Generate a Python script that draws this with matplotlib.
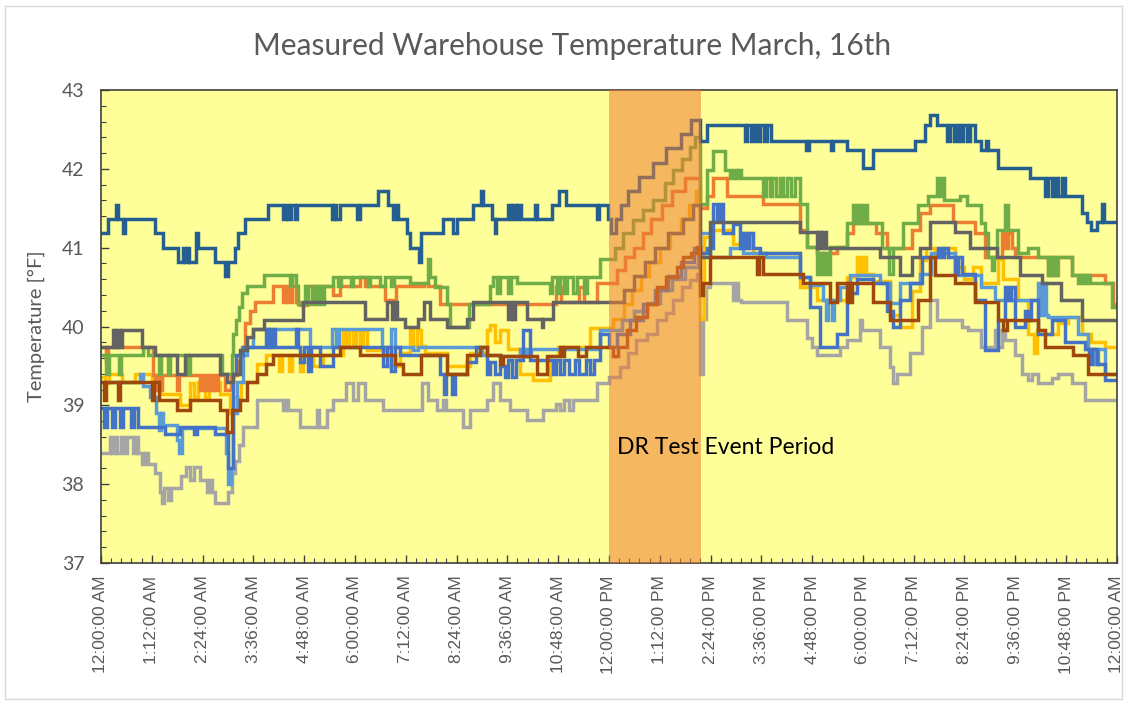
import numpy as np
import matplotlib
matplotlib.use("Agg")
import matplotlib.pyplot as plt
from matplotlib.patches import Rectangle
from matplotlib.ticker import MultipleLocator

# readings: (hour of day, temperature F), value holds until next reading
dark_blue = [(0.00, 41.18), (0.17, 41.36), (0.35, 41.54), (0.40, 41.36), (0.52, 41.18), (0.57, 41.36),
             (1.28, 41.18), (1.47, 41.00), (1.83, 40.82), (1.93, 41.00), (1.98, 40.82), (2.05, 41.00),
             (2.09, 40.82), (2.25, 41.18), (2.29, 41.00), (2.69, 40.82), (2.93, 40.64), (2.99, 40.82),
             (3.16, 41.00), (3.24, 41.18), (3.40, 41.36), (3.95, 41.54), (4.31, 41.36), (4.36, 41.54),
             (4.42, 41.36), (4.50, 41.54), (4.58, 41.36), (4.64, 41.54), (5.45, 41.36), (5.50, 41.54),
             (5.56, 41.36), (5.64, 41.54), (6.06, 41.36), (6.11, 41.54), (6.55, 41.72), (6.79, 41.54),
             (6.90, 41.36), (6.96, 41.54), (7.02, 41.36), (7.22, 41.18), (7.30, 41.00), (7.52, 40.82),
             (7.56, 41.18), (8.09, 41.36), (8.32, 41.18), (8.40, 41.36), (8.80, 41.54), (8.98, 41.72),
             (9.03, 41.54), (9.23, 41.36), (9.30, 41.18), (9.34, 41.36), (9.62, 41.54), (9.68, 41.36),
             (9.74, 41.54), (9.80, 41.36), (9.86, 41.54), (9.92, 41.36), (10.26, 41.54), (10.31, 41.36),
             (10.65, 41.54), (10.82, 41.72), (10.98, 41.54), (11.72, 41.36), (11.77, 41.54), (11.98, 41.36),
             (12.06, 41.18), (12.17, 41.36), (12.28, 41.54), (12.45, 41.72), (12.72, 41.90), (13.05, 42.08),
             (13.35, 42.26), (13.70, 42.44), (13.95, 42.62), (14.15, 42.35), (14.31, 42.56), (15.21, 42.35),
             (15.27, 42.56), (15.35, 42.35), (15.42, 42.56), (15.50, 42.35), (15.58, 42.56), (15.66, 42.35),
             (15.74, 42.56), (15.82, 42.35), (16.65, 42.24), (16.72, 42.35), (17.24, 42.24), (17.29, 42.35),
             (17.62, 42.24), (18.01, 42.01), (18.25, 42.24), (19.23, 42.35), (19.47, 42.56), (19.58, 42.68),
             (19.74, 42.56), (19.98, 42.35), (20.05, 42.56), (20.15, 42.35), (20.22, 42.56), (20.30, 42.35),
             (20.36, 42.56), (20.45, 42.35), (20.52, 42.56), (20.65, 42.35), (20.80, 42.24), (20.90, 42.35),
             (20.96, 42.24), (21.20, 42.01), (21.95, 41.88), (22.30, 41.65), (22.38, 41.88), (22.46, 41.65),
             (22.54, 41.88), (22.62, 41.65), (22.70, 41.88), (22.78, 41.65), (23.17, 41.44), (23.30, 41.33),
             (23.40, 41.22), (23.52, 41.33), (23.66, 41.56), (23.70, 41.33), (24.00, 41.33)]

green = [(0.00, 39.64), (0.12, 39.40), (0.18, 39.64), (0.42, 39.40), (0.48, 39.64), (1.00, 39.74),
         (1.12, 39.64), (1.37, 39.40), (1.42, 39.64), (1.58, 39.40), (1.62, 39.64), (2.05, 39.40),
         (2.10, 39.64), (2.85, 39.40), (3.09, 39.64), (3.13, 39.91), (3.20, 40.08), (3.26, 40.25),
         (3.34, 40.42), (3.44, 40.52), (3.84, 40.65), (4.47, 40.52), (4.52, 40.65), (4.60, 40.52),
         (4.66, 40.29), (4.82, 40.52), (4.90, 40.29), (4.98, 40.52), (5.05, 40.29), (5.12, 40.52),
         (5.20, 40.29), (5.28, 40.52), (5.49, 40.63), (5.60, 40.52), (5.66, 40.63), (5.90, 40.52),
         (5.95, 40.63), (6.30, 40.52), (6.36, 40.63), (6.60, 40.52), (6.70, 40.63), (6.85, 40.52),
         (6.92, 40.63), (7.30, 40.55), (7.72, 40.86), (7.78, 40.63), (7.90, 40.50), (8.17, 40.29),
         (8.25, 40.00), (8.70, 40.29), (9.20, 40.52), (9.27, 40.63), (9.35, 40.42), (9.42, 40.63),
         (9.62, 40.42), (9.68, 40.63), (9.82, 40.55), (10.60, 40.42), (10.66, 40.63), (10.78, 40.42),
         (10.85, 40.63), (10.95, 40.42), (11.02, 40.63), (11.15, 40.42), (11.25, 40.63), (11.40, 40.42),
         (11.48, 40.63), (11.79, 40.86), (12.15, 41.00), (12.34, 41.18), (12.58, 41.35), (12.81, 41.48),
         (13.05, 41.60), (13.32, 41.82), (13.52, 41.99), (13.72, 42.13), (13.91, 42.28), (14.03, 42.41),
         (14.15, 41.56), (14.31, 41.99), (14.47, 42.22), (14.74, 41.99), (14.86, 41.88), (14.92, 41.99),
         (15.00, 41.88), (15.06, 41.99), (15.12, 41.88), (15.65, 41.65), (15.72, 41.88), (15.80, 41.65),
         (15.86, 41.88), (15.95, 41.65), (16.05, 41.88), (16.12, 41.65), (16.20, 41.88), (16.30, 41.65),
         (16.40, 41.88), (16.51, 41.56), (16.67, 41.01), (16.91, 40.67), (16.97, 40.93), (17.03, 40.67),
         (17.09, 40.93), (17.15, 40.67), (17.22, 41.01), (17.62, 41.31), (17.77, 41.54), (17.83, 41.31),
         (17.90, 41.54), (17.96, 41.31), (18.03, 41.54), (18.10, 41.31), (18.44, 40.99), (18.62, 40.67),
         (18.72, 40.99), (18.95, 41.31), (19.31, 41.54), (19.55, 41.65), (19.74, 41.88), (19.80, 41.65),
         (19.86, 41.88), (19.92, 41.60), (20.29, 41.65), (20.45, 41.54), (20.80, 41.31), (20.88, 41.18),
         (20.96, 40.88), (21.04, 40.72), (21.10, 40.88), (21.16, 41.22), (21.36, 41.54), (21.43, 41.22),
         (21.67, 40.93), (21.91, 41.00), (22.14, 40.88), (22.38, 40.65), (22.45, 40.88), (22.52, 40.65),
         (22.58, 40.88), (22.93, 40.65), (23.09, 40.55), (23.15, 40.65), (23.22, 40.55), (23.30, 40.65),
         (23.37, 40.55), (23.88, 40.25), (24.00, 40.25)]

orange = [(0.00, 39.74), (0.12, 39.56), (0.17, 39.74), (1.23, 39.38), (1.28, 39.20), (1.33, 39.38),
          (1.40, 39.20), (1.45, 39.38), (1.80, 39.20), (1.85, 39.38), (2.34, 39.20), (2.40, 39.38),
          (2.46, 39.20), (2.52, 39.38), (2.58, 39.20), (2.64, 39.38), (2.70, 39.20), (2.76, 39.38),
          (2.93, 39.20), (3.06, 39.38), (3.22, 39.56), (3.32, 39.74), (3.40, 40.04), (3.52, 40.20),
          (3.64, 40.31), (4.07, 40.52), (4.31, 40.31), (4.37, 40.52), (4.45, 40.31), (4.52, 40.52),
          (4.60, 40.31), (4.70, 40.27), (4.86, 40.52), (5.49, 40.40), (5.65, 40.52), (6.12, 40.63),
          (6.24, 40.52), (6.70, 40.33), (6.98, 40.52), (7.62, 40.55), (7.73, 40.52), (8.00, 40.29),
          (10.76, 40.50), (10.86, 40.31), (11.30, 40.50), (11.40, 40.31), (11.71, 40.55), (12.20, 40.72),
          (12.38, 40.88), (12.60, 41.00), (12.80, 41.18), (13.00, 41.36), (13.25, 41.54), (13.50, 41.72),
          (13.80, 41.88), (14.15, 41.50), (14.31, 41.65), (14.47, 41.88), (14.78, 41.65), (15.65, 41.56),
          (16.51, 41.22), (16.67, 41.01), (16.91, 40.93), (17.38, 41.01), (17.62, 41.18), (17.77, 41.31),
          (18.32, 41.18), (18.56, 40.99), (19.15, 41.22), (19.35, 41.44), (19.58, 41.54), (20.14, 41.33),
          (20.65, 41.18), (20.88, 40.88), (21.28, 41.18), (21.36, 41.00), (21.44, 41.18), (21.52, 41.00),
          (21.59, 40.88), (22.38, 40.65), (22.45, 40.88), (22.52, 40.65), (22.60, 40.88), (22.93, 40.65),
          (23.72, 40.55), (23.92, 40.29), (24.00, 40.29)]

dark_gray = [(0.00, 39.74), (0.29, 39.95), (0.33, 39.74), (0.38, 39.95), (0.44, 39.74), (0.50, 39.95),
             (0.96, 39.74), (1.28, 39.64), (1.79, 39.40), (1.98, 39.64), (2.81, 39.40), (2.97, 39.30),
             (3.13, 39.40), (3.28, 39.70), (3.44, 39.87), (3.60, 39.97), (3.84, 40.08), (4.78, 40.31),
             (6.24, 40.10), (6.75, 40.31), (6.87, 40.10), (6.93, 40.31), (6.99, 40.10), (7.18, 40.00),
             (7.50, 40.10), (7.62, 40.31), (7.77, 40.10), (8.17, 40.00), (8.64, 40.10), (8.80, 40.31),
             (9.62, 40.10), (9.68, 40.31), (9.74, 40.10), (9.78, 40.31), (10.06, 40.10), (10.41, 40.00),
             (10.44, 40.10), (10.69, 40.31), (12.35, 40.46), (12.60, 40.64), (12.85, 40.82), (13.10, 41.00),
             (13.40, 41.18), (13.75, 41.36), (13.98, 41.54), (14.15, 40.88), (14.39, 41.32), (16.51, 41.20),
             (16.91, 41.00), (16.95, 41.20), (17.00, 41.00), (17.05, 41.20), (17.14, 41.00), (18.40, 40.88),
             (18.87, 40.65), (19.15, 40.88), (19.35, 41.00), (19.58, 41.32), (20.18, 41.20), (20.53, 41.00),
             (21.16, 40.88), (21.71, 40.65), (22.22, 40.55), (22.69, 40.34), (23.17, 40.08), (24.00, 40.08)]

light_blue = [(0.00, 39.30), (0.92, 39.40), (1.00, 39.24), (1.16, 39.11), (1.30, 38.90), (1.36, 38.69),
              (1.41, 38.90), (1.47, 38.75), (1.79, 38.56), (1.85, 38.39), (1.91, 38.71), (2.95, 38.40),
              (3.00, 38.00), (3.08, 38.20), (3.13, 38.90), (3.22, 39.30), (3.36, 39.64), (3.44, 39.74),
              (3.60, 39.97), (3.95, 39.74), (4.00, 39.97), (4.94, 39.74), (5.45, 39.97), (5.55, 39.74),
              (5.62, 39.97), (6.63, 39.74), (6.85, 39.97), (6.95, 39.74), (7.38, 39.70), (7.50, 39.74),
              (9.00, 39.64), (9.43, 39.62), (9.90, 39.72), (10.00, 39.62), (10.05, 39.72), (10.10, 39.62),
              (10.15, 39.72), (11.79, 39.96), (12.30, 40.08), (12.60, 40.20), (12.90, 40.30), (13.20, 40.46),
              (13.50, 40.60), (13.80, 40.75), (14.10, 40.90), (14.15, 41.18), (14.39, 40.88), (14.86, 41.00),
              (15.17, 40.93), (15.72, 40.88), (16.51, 40.63), (16.75, 40.53), (17.06, 40.34), (17.12, 40.08),
              (17.18, 40.34), (17.26, 40.08), (17.32, 40.34), (17.46, 40.50), (17.69, 40.65), (18.40, 40.55),
              (18.64, 40.30), (18.87, 40.55), (19.35, 40.67), (19.62, 40.93), (20.18, 40.65), (20.80, 40.50),
              (21.12, 40.34), (22.14, 40.55), (22.20, 40.15), (22.26, 40.55), (22.32, 40.15), (22.38, 40.12),
              (23.09, 39.91), (23.33, 39.72), (23.45, 39.53), (23.55, 39.72), (23.72, 39.40), (24.00, 39.40)]

blue = [(0.00, 38.96), (0.08, 38.73), (0.15, 38.96), (0.25, 38.73), (0.32, 38.96), (0.45, 38.73),
        (0.52, 38.96), (0.70, 38.73), (0.78, 38.96), (0.88, 38.73), (1.51, 38.64), (1.87, 38.73),
        (2.20, 38.64), (2.26, 38.73), (2.69, 38.64), (3.00, 38.20), (3.13, 39.40), (3.20, 39.64),
        (3.36, 39.74), (3.91, 39.97), (3.98, 39.74), (4.05, 39.97), (4.12, 39.74), (4.60, 39.97),
        (4.66, 39.74), (4.70, 39.55), (4.80, 39.74), (4.90, 39.43), (4.97, 39.74), (5.17, 39.50),
        (5.49, 39.74), (6.67, 39.50), (6.75, 39.74), (6.85, 39.43), (6.95, 39.74), (7.06, 39.64),
        (8.00, 39.40), (8.10, 39.15), (8.16, 39.40), (8.30, 39.15), (8.36, 39.40), (8.64, 39.55),
        (8.85, 39.74), (9.11, 39.40), (9.20, 39.55), (9.30, 39.40), (9.43, 39.50), (9.55, 39.36),
        (9.62, 39.57), (9.70, 39.36), (9.80, 39.57), (9.98, 39.96), (10.13, 39.57), (10.69, 39.40),
        (10.76, 39.57), (10.85, 39.40), (10.95, 39.57), (11.05, 39.40), (11.20, 39.57), (11.30, 39.40),
        (11.45, 39.57), (11.55, 39.40), (11.65, 39.57), (11.79, 39.90), (12.00, 39.74), (12.20, 39.90),
        (12.50, 40.08), (12.80, 40.28), (13.10, 40.46), (13.40, 40.64), (13.70, 40.82), (14.00, 41.00),
        (14.15, 40.93), (14.31, 41.00), (14.47, 41.56), (14.55, 41.35), (14.62, 41.56), (14.70, 41.18),
        (14.94, 41.30), (15.10, 41.00), (15.16, 41.18), (15.24, 41.00), (15.32, 41.18), (15.40, 41.00),
        (15.57, 40.93), (16.51, 40.63), (16.75, 40.25), (16.98, 39.74), (17.38, 39.91), (17.62, 40.42),
        (17.85, 40.60), (18.25, 40.55), (18.56, 40.20), (18.72, 40.00), (18.87, 40.34), (19.11, 40.55),
        (19.39, 40.88), (19.78, 41.00), (19.85, 40.88), (19.92, 41.00), (20.00, 40.88), (20.18, 40.67),
        (20.25, 40.88), (20.33, 40.67), (20.65, 40.34), (20.88, 39.70), (21.20, 40.08), (21.36, 40.50),
        (21.42, 40.34), (21.50, 40.50), (21.59, 40.00), (21.83, 40.20), (21.90, 40.08), (21.97, 40.34),
        (22.14, 39.91), (22.46, 40.08), (22.77, 39.80), (23.25, 39.72), (23.35, 39.53), (23.42, 39.72),
        (23.52, 39.53), (23.72, 39.32), (24.00, 39.32)]

gold = [(0.00, 39.36), (0.10, 39.28), (0.20, 39.40), (0.50, 39.30), (0.80, 39.40), (1.20, 39.30),
        (1.40, 39.15), (1.87, 39.00), (2.10, 39.28), (2.20, 39.10), (2.30, 39.30), (2.45, 39.10),
        (2.55, 39.30), (2.81, 39.15), (3.05, 38.90), (3.13, 39.10), (3.30, 39.30), (3.68, 39.53),
        (3.91, 39.64), (4.20, 39.43), (4.28, 39.64), (4.45, 39.43), (4.52, 39.64), (4.70, 39.43),
        (4.78, 39.64), (5.00, 39.50), (5.25, 39.64), (5.72, 39.95), (5.80, 39.75), (5.86, 39.95),
        (5.95, 39.75), (6.03, 39.95), (6.12, 39.75), (6.20, 39.95), (6.28, 39.70), (6.75, 39.50),
        (7.06, 39.66), (7.30, 39.95), (7.38, 39.75), (7.46, 39.95), (7.55, 39.75), (7.65, 39.66),
        (8.17, 39.50), (8.72, 39.66), (9.11, 39.95), (9.18, 40.02), (9.30, 39.80), (9.43, 39.95),
        (9.62, 39.72), (9.90, 39.40), (10.21, 39.32), (10.60, 39.62), (10.80, 39.74), (11.55, 39.98),
        (12.10, 40.10), (12.35, 40.28), (12.55, 40.46), (12.75, 40.64), (12.95, 40.82), (13.20, 41.00),
        (13.45, 41.18), (13.70, 41.36), (13.90, 41.54), (14.05, 41.72), (14.15, 40.10), (14.25, 41.14),
        (14.47, 41.22), (14.94, 41.05), (15.17, 41.18), (15.25, 41.00), (15.33, 41.18), (15.41, 40.93),
        (16.51, 40.50), (16.91, 40.34), (17.62, 40.63), (17.85, 40.88), (17.92, 40.67), (18.00, 40.88),
        (18.08, 40.67), (18.25, 40.58), (18.64, 40.15), (18.87, 40.00), (19.15, 40.45), (19.35, 40.84),
        (19.50, 41.00), (19.70, 40.88), (19.90, 41.00), (20.18, 40.75), (20.40, 40.60), (20.60, 40.75),
        (20.80, 40.55), (21.20, 40.86), (21.30, 40.60), (21.67, 40.34), (21.91, 39.90), (22.05, 39.66),
        (22.12, 39.95), (22.30, 39.91), (22.62, 40.05), (22.85, 40.12), (23.17, 39.91), (23.40, 39.80),
        (23.72, 39.74), (24.00, 39.74)]

brown = [(0.00, 39.30), (0.06, 39.07), (0.12, 39.30), (0.40, 39.07), (0.46, 39.30), (1.20, 39.07),
         (1.26, 39.30), (1.36, 39.07), (1.79, 38.94), (2.10, 39.07), (2.81, 38.94), (2.97, 38.66),
         (3.09, 38.94), (3.28, 39.07), (3.44, 39.30), (3.68, 39.40), (3.91, 39.53), (4.07, 39.64),
         (5.65, 39.74), (6.12, 39.64), (6.95, 39.53), (7.14, 39.40), (7.55, 39.64), (8.17, 39.40),
         (8.64, 39.64), (8.95, 39.74), (9.11, 39.64), (9.43, 39.52), (9.50, 39.62), (10.29, 39.40),
         (10.53, 39.62), (10.84, 39.74), (10.90, 39.62), (10.95, 39.74), (11.27, 39.62), (11.47, 39.74),
         (12.10, 39.62), (12.22, 39.74), (12.42, 39.96), (12.65, 40.12), (12.89, 40.29), (13.13, 40.50),
         (13.36, 40.63), (13.60, 40.76), (13.76, 40.88), (13.95, 40.93), (14.07, 41.01), (14.15, 40.40),
         (14.23, 40.55), (14.39, 40.88), (15.49, 40.67), (15.55, 40.88), (15.65, 40.67), (16.59, 40.55),
         (17.22, 40.31), (17.38, 40.55), (17.62, 40.31), (17.66, 40.55), (17.70, 40.31), (17.74, 40.55),
         (18.25, 40.31), (18.64, 40.08), (19.31, 40.34), (19.58, 40.88), (19.70, 40.65), (20.18, 40.55),
         (20.65, 40.31), (21.20, 40.08), (21.30, 39.96), (21.40, 40.08), (22.14, 39.96), (22.30, 39.74),
         (22.97, 39.64), (23.33, 39.40), (24.00, 39.40)]

light_gray = [(0.00, 38.39), (0.21, 38.60), (0.26, 38.39), (0.32, 38.60), (0.37, 38.39), (0.48, 38.60),
              (0.55, 38.39), (0.61, 38.60), (0.76, 38.39), (0.82, 38.60), (0.88, 38.39), (0.96, 38.26),
              (1.05, 38.39), (1.12, 38.26), (1.28, 38.14), (1.39, 37.90), (1.45, 37.76), (1.50, 37.95),
              (1.58, 37.80), (1.65, 37.95), (1.90, 38.10), (2.00, 38.22), (2.10, 38.05), (2.20, 38.22),
              (2.35, 38.05), (2.50, 37.90), (2.56, 38.05), (2.62, 37.90), (2.70, 37.76), (3.00, 37.90),
              (3.10, 38.14), (3.17, 38.30), (3.25, 38.50), (3.36, 38.73), (3.68, 39.07), (4.29, 38.94),
              (4.35, 39.07), (4.42, 38.94), (4.70, 38.73), (5.10, 38.94), (5.15, 38.73), (5.33, 38.94),
              (5.49, 39.07), (5.80, 39.28), (5.96, 39.07), (6.08, 39.28), (6.24, 39.07), (6.67, 38.94),
              (7.58, 39.28), (7.73, 39.07), (7.93, 38.94), (8.09, 39.07), (8.15, 38.94), (8.56, 38.73),
              (8.72, 38.94), (9.11, 39.07), (9.27, 39.28), (9.43, 39.07), (9.66, 38.94), (10.06, 38.81),
              (10.45, 38.94), (10.76, 39.02), (10.85, 38.94), (10.95, 39.07), (11.05, 38.94), (11.15, 39.07),
              (11.71, 39.28), (12.00, 39.36), (12.26, 39.49), (12.46, 39.66), (12.65, 39.83), (12.89, 39.91),
              (13.13, 40.08), (13.36, 40.17), (13.52, 40.34), (13.72, 40.50), (13.91, 40.59), (14.07, 40.67),
              (14.14, 39.40), (14.22, 40.10), (14.30, 40.50), (14.39, 40.55), (14.94, 40.34), (15.00, 40.55),
              (15.06, 40.34), (15.13, 40.31), (16.20, 40.08), (16.67, 39.85), (16.80, 39.74), (16.91, 39.64),
              (17.46, 39.74), (17.62, 39.83), (17.93, 40.08), (17.98, 39.96), (18.40, 39.74), (18.64, 39.49),
              (18.72, 39.28), (18.80, 39.40), (19.11, 39.66), (19.39, 40.00), (19.58, 40.34), (19.74, 40.08),
              (20.33, 40.00), (20.49, 39.96), (20.80, 39.74), (21.12, 39.96), (21.20, 39.74), (21.28, 39.96),
              (21.36, 39.83), (21.59, 39.64), (21.75, 39.40), (21.91, 39.32), (22.00, 39.40), (22.14, 39.28),
              (22.46, 39.35), (22.62, 39.40), (22.93, 39.28), (23.25, 39.07), (24.00, 39.07)]

series = [(light_gray, '#A5A5A5'), (gold, '#FFC000'), (orange, '#ED7D31'), (green, '#70AD47'),
          (light_blue, '#5B9BD5'), (blue, '#4472C4'), (dark_gray, '#636363'), (brown, '#9E480E'),
          (dark_blue, '#255E91')]

event_start, event_end = 12.0, 14.17
tick_hours = np.arange(0, 24.01, 1.2)
tick_labels = ["12:00:00 AM", "1:12:00 AM", "2:24:00 AM", "3:36:00 AM", "4:48:00 AM", "6:00:00 AM",
               "7:12:00 AM", "8:24:00 AM", "9:36:00 AM", "10:48:00 AM", "12:00:00 PM", "1:12:00 PM",
               "2:24:00 PM", "3:36:00 PM", "4:48:00 PM", "6:00:00 PM", "7:12:00 PM", "8:24:00 PM",
               "9:36:00 PM", "10:48:00 PM", "12:00:00 AM"]

fig = plt.figure(figsize=(11.27, 7.02), dpi=100)
ax = fig.add_axes([0.0896, 0.198, 0.9014, 0.6738])
ax.set_facecolor('#FFFF99')

for data, col in series:
    t, v = zip(*data)
    ax.plot(t, v, drawstyle='steps-post', color=col, lw=2.5, solid_joinstyle='miter', zorder=2)

ax.axvspan(event_start, event_end, color='#ED7D31', alpha=0.55, lw=0, zorder=5)
ax.text(12.19, 38.47, "DR Test Event Period", fontsize=16.5, family='Lato', va='center', ha='left', zorder=6)

ax.set_xlim(0, 24)
ax.set_ylim(37, 43)
ax.set_xticks(tick_hours)
ax.set_xticklabels(tick_labels, rotation=90, family='Liberation Sans', fontsize=12.5, color='#595959')
ax.xaxis.set_minor_locator(MultipleLocator(0.24))
ax.yaxis.set_major_locator(MultipleLocator(1))
ax.yaxis.set_minor_locator(MultipleLocator(0.2))
ax.tick_params(which='both', direction='in', color='#404040')
ax.tick_params(which='major', length=6, width=1)
ax.tick_params(which='minor', length=3.5, width=0.8)
ax.tick_params(axis='x', pad=9)
ax.tick_params(axis='y', labelsize=14, labelcolor='#595959', pad=12)
for lab in ax.get_yticklabels():
    lab.set_family('Lato')
for s in ax.spines.values():
    s.set_color('#404040')
    s.set_linewidth(1.2)

ax.set_ylabel("Temperature [°F]", fontsize=14.5, family='Lato', color='#595959', labelpad=12)
fig.text(0.508, 0.935, "Measured Warehouse Temperature March, 16th", fontsize=21.5, family='Lato',
         color='#595959', ha='center', va='center')

fig.add_artist(Rectangle((0.004, 0.004), 0.992, 0.988, transform=fig.transFigure, fill=False,
                         edgecolor='#D9D9D9', lw=1))

fig.savefig('out.png', dpi=100)
